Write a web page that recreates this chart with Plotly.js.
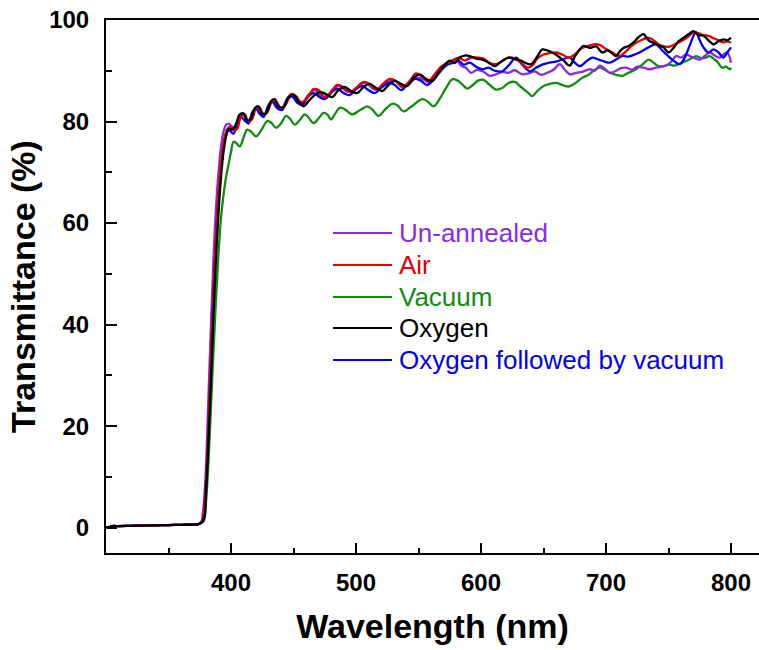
<!DOCTYPE html>
<html>
<head>
<meta charset="utf-8">
<script src="https://cdn.plot.ly/plotly-3.0.1.min.js"></script>
<style>html,body{margin:0;padding:0;background:#fff;}#chart{width:759px;height:650px;}</style>
</head>
<body>
<div id="chart"></div>
<script>
// shared baseline below the absorption edge
var baseWl = [300, 303, 305, 310, 320, 330, 340, 350, 360, 370, 374];
var baseT  = [0.1, 0.1, 0.3, 0.3, 0.35, 0.4, 0.45, 0.5, 0.55, 0.6, 0.7];

var seriesNames = ['Un-annealed', 'Air', 'Vacuum', 'Oxygen', 'Oxygen followed by vacuum'];

var unannealedWl = [376,378,380,382,384,386,388,390,392,394,396,398,400,403,406,409,412,415,418,421,424,427,431,434,437,441,445,449,453,457,462,467,472,477,482,487,492,497,503,508,514,519,525,531,537,542,548,554,559,564,570,575,580,584,588,592,597,602,607,612,617,622,627,633,638,643,648,654,658,663,667,671,676,681,687,691,695,699,703,708,712,716,721,725,730,735,740,745,750,753,756,760,764,768,772,775,779,783,787,791,794,797,800];
var unannealedT  = [1.0,4,12,26,40,53,63,70,75,78,79.3,79.6,79.2,78.6,80.2,81.5,80.6,80.2,82.0,82.8,81.6,81.3,83.5,84.2,83.0,82.7,84.6,85.2,83.9,83.6,85.3,86.2,85.0,85.0,86.5,87.0,86.0,85.9,87.2,87.6,86.4,86.6,87.8,88.0,86.8,87.3,88.6,88.3,87.6,88.8,90.5,91.8,92.3,91.0,90.6,89.6,90.2,89.8,89.0,89.3,89.8,89.6,90.1,89.3,89.5,89.9,89.2,89.7,90.2,91.3,90.2,89.3,89.6,89.8,90.3,90.0,91.0,90.4,89.6,90.0,90.5,90.6,90.2,90.8,90.6,90.3,90.6,90.8,91.3,92.0,92.9,92.6,93.2,92.8,92.4,92.2,92.9,93.6,93.0,92.6,93.2,93.6,91.6];

var airWl = [377,379,381,383,385,387,389,391,393,395,397,399,402,405,408,411,414,417,420,423,426,429,433,436,440,444,448,452,456,461,466,470,475,480,485,490,495,500,506,511,516,522,527,532,537,543,548,553,558,563,568,573,577,582,587,592,597,602,607,612,617,622,627,632,637,641,645,650,655,660,665,670,675,680,685,690,695,700,705,710,715,720,724,728,733,737,741,745,750,755,760,765,770,774,778,782,786,790,794,797,800];
var airT  = [1.2,5,14,27,40,52,62,69,74,77,78.5,79.0,78.3,78.6,81.0,81.4,80.0,80.5,82.6,82.7,81.4,81.8,84.0,84.0,82.6,83.4,85.4,85.0,83.8,84.6,86.4,86.2,84.8,85.8,87.2,86.8,85.8,86.6,87.8,87.4,86.3,87.5,88.4,88.0,86.8,88.0,89.5,88.8,88.0,89.3,90.8,91.5,92.0,92.6,92.0,92.6,92.6,92.4,91.5,91.3,91.9,92.6,92.4,91.6,90.6,91.0,92.4,93.2,93.5,93.6,93.2,92.6,93.2,94.4,94.8,95.2,95.1,94.3,93.6,92.9,93.6,94.8,95.5,96.0,96.5,96.2,95.4,94.9,94.7,95.2,95.8,96.6,97.5,97.4,97.0,96.9,96.4,96.0,95.6,95.8,95.5];

var vacuumWl = [378,380,382,384,386,388,390,392,394,396,398,400,402,404,407,410,413,416,420,424,429,432,436,440,444,447,451,455,459,462,466,470,474,477,480,483,487,491,497,503,509,513,518,523,529,533,538,544,553,557,562,567,572,577,581,585,589,593,598,602,607,612,617,622,627,632,637,641,645,650,655,660,665,670,675,681,686,691,695,699,703,708,713,718,724,729,734,738,742,746,750,755,760,764,768,772,776,780,783,786,789,793,796,799,800];
var vacuumT  = [1.2,5,13,24,35,45,54,61,65.5,69,71.5,74,76,75.8,75.1,76.8,78.4,78.0,77.1,78.2,80.1,79.8,78.8,79.6,81.1,80.6,79.4,80.3,81.4,80.8,79.7,80.6,81.7,81.4,80.4,81.4,82.7,82.4,81.4,82.2,83.0,82.4,81.1,82.3,83.5,83.2,82.0,82.9,84.4,84.0,83.0,84.5,86.6,88.3,88.1,87.3,86.5,87.1,88.1,88.2,87.2,86.3,86.6,87.6,87.8,86.8,85.8,85.0,86.0,87.0,87.4,87.6,87.2,86.9,87.5,88.6,89.2,90.2,90.6,90.2,89.6,89.2,89.0,89.6,90.3,91.2,92.2,91.6,90.9,90.9,91.2,91.0,91.5,91.9,92.4,92.9,92.5,92.6,92.9,92.4,91.8,90.6,90.8,90.3,90.6];

var oxygenWl = [378,380,382,384,386,388,390,392,394,396,398,401,404,407,410,413,416,419,422,425,428,432,435,438,442,446,450,454,458,462,466,471,476,481,486,491,496,501,506,511,516,521,526,531,536,541,546,551,556,561,566,571,575,579,583,587,591,596,601,606,611,616,622,627,632,636,640,645,649,653,657,662,667,671,675,679,682,687,692,697,701,705,708,711,714,718,722,726,730,734,738,742,746,750,754,758,762,766,770,774,778,782,786,790,794,797,800];
var oxygenT  = [1.5,7,17,29,42,53,62,69,74,77,78.5,78.4,79.5,81.4,81.6,80.2,80.6,82.6,83.0,81.6,81.6,84.0,84.4,83.0,82.8,84.8,85.3,84.0,83.0,84.0,85.0,85.8,85.4,84.8,86.2,86.8,86.0,85.6,86.8,87.4,86.6,86.0,87.2,88.0,87.4,87.0,88.6,89.3,88.4,88.0,89.6,91.2,92.0,91.5,92.6,93.0,92.9,92.4,92.2,91.6,90.9,91.8,92.6,92.3,92.0,91.5,91.3,92.8,94.2,94.0,93.6,92.8,91.8,91.0,92.8,94.2,94.9,94.5,94.8,93.6,94.0,93.4,92.9,93.8,94.5,94.9,95.6,96.6,97.2,96.0,95.5,95.0,94.6,93.6,94.5,95.8,96.5,97.2,97.8,97.0,96.9,96.0,95.2,95.8,96.2,96.0,96.5];

var oxyVacWl = [377,379,381,383,385,387,389,391,393,395,397,399,402,405,408,411,414,417,420,423,426,430,433,437,441,445,449,453,457,461,466,471,475,480,485,490,495,500,505,510,515,520,526,531,536,541,547,552,557,563,568,573,578,582,586,591,596,601,606,611,617,622,628,633,639,644,649,655,660,665,671,675,679,684,689,694,699,703,708,713,718,723,729,734,740,745,751,755,759,763,767,772,775,778,782,786,790,794,797,800];
var oxyVacT  = [1.2,5,14,27,40,52,61,68,73,76.5,78,78.2,77.6,79.6,80.8,80.2,79.6,81.8,82.5,81.5,80.9,83.2,83.9,82.6,82.3,84.3,84.9,83.7,83.3,84.7,85.6,84.8,84.4,85.6,86.5,85.6,85.2,86.4,87.0,86.2,85.6,86.6,87.6,87.2,86.2,87.2,88.4,88.0,87.2,88.6,90.2,91.2,91.6,92.0,91.2,91.6,90.8,90.3,90.6,90.0,89.9,91.0,92.6,91.2,89.9,90.6,91.2,91.6,91.8,92.2,92.6,91.6,90.9,91.8,92.6,92.2,91.8,91.6,92.2,92.9,92.8,93.2,93.9,94.6,95.2,94.0,92.6,91.8,91.3,92.6,95.0,97.6,96.0,94.6,93.6,94.2,93.6,92.6,93.6,94.6];

var colors = ['#8a2be2', '#e00000', '#138a13', '#000000', '#0000ee'];
var wls = [unannealedWl, airWl, vacuumWl, oxygenWl, oxyVacWl];
var ts = [unannealedT, airT, vacuumT, oxygenT, oxyVacT];
// draw order: green, purple, blue, red, black on top
var order = [2, 0, 4, 1, 3];

var traces = order.map(function (i) {
  return {
    x: baseWl.concat(wls[i]),
    y: baseT.concat(ts[i]),
    type: 'scatter',
    mode: 'lines',
    name: seriesNames[i],
    line: {color: colors[i], width: 2.3, shape: 'spline', smoothing: 1.0},
    showlegend: false
  };
});

var FONT = 'Arial, "Liberation Sans", sans-serif';
var L = 106, T0 = 20, W = 653, H = 533;
function px(x) { return (x - L) / W; }
function py(y) { return (T0 + H - y) / H; }

var legY = [233, 265, 297, 328, 360];
var shapes = [], annotations = [];
seriesNames.forEach(function (n, i) {
  shapes.push({type: 'line', xref: 'paper', yref: 'paper',
    x0: px(333), x1: px(392), y0: py(legY[i]), y1: py(legY[i]),
    line: {color: colors[i], width: 2}});
  annotations.push({xref: 'paper', yref: 'paper', x: px(397), y: py(legY[i]),
    xanchor: 'left', yanchor: 'middle', showarrow: false, text: n,
    font: {family: FONT, size: 26, color: colors[i]}});
});

var layout = {
  width: 759, height: 650,
  margin: {l: L, r: 0, t: T0, b: 650 - T0 - H, pad: 0},
  paper_bgcolor: '#fff', plot_bgcolor: '#fff',
  showlegend: false,
  font: {family: FONT, color: '#000'},
  xaxis: {
    range: [300, 300 + W / 1.25],
    showline: true, linewidth: 2, linecolor: '#000', mirror: true,
    showgrid: false, zeroline: false,
    ticks: 'inside', ticklen: 10, tickwidth: 2, tickcolor: '#000',
    tickmode: 'array', tickvals: [400, 500, 600, 700, 800],
    minor: {tickmode: 'array', tickvals: [350, 450, 550, 650, 750], ticks: 'inside', ticklen: 5, tickwidth: 2, tickcolor: '#000', showgrid: false},
    tickfont: {family: FONT, size: 24, weight: 'bold', color: '#000'},
    ticklabelstandoff: 7,
    title: {text: 'Wavelength (nm)', font: {family: FONT, size: 34, weight: 'bold', color: '#000'}, standoff: 19}
  },
  yaxis: {
    range: [-5, 100],
    showline: true, linewidth: 2, linecolor: '#000',
    showgrid: false, zeroline: false,
    ticks: 'inside', ticklen: 11, tickwidth: 2, tickcolor: '#000',
    tickmode: 'array', tickvals: [0, 20, 40, 60, 80, 100],
    minor: {tickmode: 'array', tickvals: [10, 30, 50, 70, 90], ticks: 'inside', ticklen: 6, tickwidth: 2, tickcolor: '#000', showgrid: false},
    tickfont: {family: FONT, size: 24, weight: 'bold', color: '#000'},
    ticklabelstandoff: 10,
    title: {text: 'Transmittance (%)', font: {family: FONT, size: 34, weight: 'bold', color: '#000'}, standoff: 3}
  },
  shapes: shapes,
  annotations: annotations
};

Plotly.newPlot('chart', traces, layout, {displayModeBar: false, staticPlot: true});
</script>
</body>
</html>
